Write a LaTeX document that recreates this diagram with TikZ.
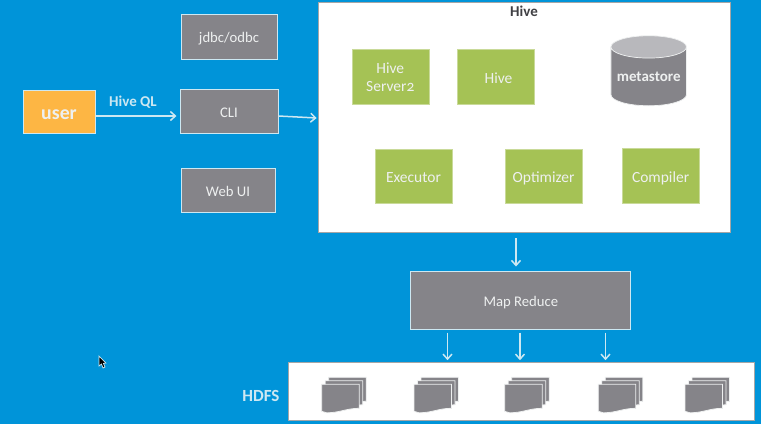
\documentclass[tikz,border=0pt]{standalone}
\usepackage{fontspec}
\setmainfont{Carlito}
\usetikzlibrary{arrows.meta,shapes.geometric}
\definecolor{skyback}{RGB}{0,148,217}
\definecolor{boxgray}{RGB}{133,132,137}
\definecolor{capgray}{RGB}{184,184,188}
\definecolor{edgeblue}{RGB}{205,232,242}
\definecolor{leafgreen}{RGB}{165,194,85}
\definecolor{useryellow}{RGB}{253,182,68}
\definecolor{softwhite}{RGB}{238,240,240}
\definecolor{hivetitle}{RGB}{64,64,68}
\tikzset{GrayBox/.style = {draw=edgeblue, line width=1pt, fill=boxgray, text=softwhite,
                           font=\fontsize{14.7}{17}\selectfont, inner sep=0pt,
                           text height=12.5pt, text depth=0pt},
         GreenBox/.style = {draw=leafgreen!60!white, line width=.6pt, fill=leafgreen, text=softwhite,
                            font=\fontsize{15.5}{18}\selectfont, minimum width=77pt,
                            minimum height=54.5pt, inner sep=0pt, align=center,
                            text height=12.5pt, text depth=0pt},
         WhitePanel/.style = {draw=gray!70, line width=.6pt, fill=white, inner sep=0pt},
         BlueLabel/.style = {text=edgeblue, font=\bfseries\fontsize{15}{17}\selectfont, inner sep=0pt},
         Flow/.style = {draw=edgeblue, line width=1.5pt, -{Straight Barb[length=5pt,width=9pt]}},
         pics/filestack/.style = {code={
            \foreach \off in {7,3.5,0}
                \fill[boxgray, draw=softwhite, line width=.8pt] (\off,-\off) -- ++(37.5,0) -- ++(0,24)
                    .. controls ++(-13,0) and ++(13,0) .. ++(-32.5,4.5) -- ++(-5,-1.5) -- cycle;
         }}}

\begin{document}
\begin{tikzpicture}[x=1pt,y=-1pt]
    \useasboundingbox (0,0) rectangle (761,424);
    \fill[skyback] (0,0) rectangle (761,424);

    \node[WhitePanel, minimum width=412pt, minimum height=230pt] (hive) at (524,117) {};
    \node[WhitePanel, minimum width=465.5pt, minimum height=57.5pt] (hdfs) at (521.25,391.25) {};

    \node[draw=edgeblue, line width=1pt, fill=useryellow, text=softwhite, inner sep=0pt,
          minimum width=72pt, minimum height=43pt, text height=15pt, text depth=0pt,
          font=\bfseries\fontsize{19.8}{22}\selectfont] (user) at (59,111.5) {user};
    \node[GrayBox, minimum width=96pt, minimum height=45pt] (jdbc) at (229,36.5) {jdbc/odbc};
    \node[GrayBox, minimum width=98pt, minimum height=44pt] (cli) at (229,111) {CLI};
    \node[GrayBox, minimum width=94pt, minimum height=44pt] (webui) at (228,190) {Web UI};
    \node[GrayBox, minimum width=220pt, minimum height=58pt] (mapreduce) at (520.85,300) {Map Reduce};

    \node[GreenBox, text height=28.5pt] (server) at (390.3,77) {Hive\\Server{\addfontfeatures{Numbers=OldStyle}2}};
    \node[GreenBox] (hivecli) at (496,77) {\hspace{5pt}Hive};
    \node[GreenBox] (executor) at (413.5,176.5) {Executor};
    \node[GreenBox] (optimizer) at (543.6,176.5) {Optimizer};
    \node[GreenBox] (compiler) at (660.6,176) {Compiler};

    \node[cylinder, shape border rotate=90, aspect=.35, draw=softwhite, line width=.7pt,
          cylinder uses custom fill, cylinder body fill=boxgray, cylinder end fill=capgray,
          minimum width=75.5pt, minimum height=70pt, inner sep=0pt, text=softwhite,
          font=\bfseries\fontsize{15}{17}\selectfont] (metastore) at (648.7,76.5) {metastore};

    \node[text=hivetitle, inner sep=0pt, font=\bfseries\fontsize{15}{17}\selectfont] (hivetitle) at (524,11.5) {Hive};
    \node[BlueLabel] (hiveql) at (133,102) {Hive QL};
    \node[BlueLabel, font=\bfseries\fontsize{17}{19}\selectfont] (hdfslabel) at (261,396) {HDFS};

    \draw[Flow] ([yshift=-4.5pt]user.east) -- ([xshift=-3pt,yshift=-5pt]cli.west);
    \draw[Flow] ([yshift=-5pt]cli.east) -- ([xshift=-1pt,yshift=-1pt]hive.west);
    \draw[Flow, shorten <=6pt, shorten >=4pt] ([xshift=-8pt]hive.south) -- ([xshift=-4.85pt]mapreduce.north);
    \foreach \dx/\ex in {-73.35/-73.75, -.85/-1.25, 84.65/84.25}
        \draw[Flow, shorten <=3pt, shorten >=2pt] ([xshift=\dx pt]mapreduce.south) -- ([xshift=\ex pt]hdfs.north);

    \foreach \xpos in {321.7,414,504.7,598.3,685}
        \pic at (\xpos,384.3) {filestack};

    \fill[black, draw=edgeblue, line width=.7pt] (99,356) -- (99,366) -- (101.5,364) -- (103,368)
        -- (105,367) -- (103.5,363.5) -- (106,363) -- cycle;
\end{tikzpicture}
\end{document}
